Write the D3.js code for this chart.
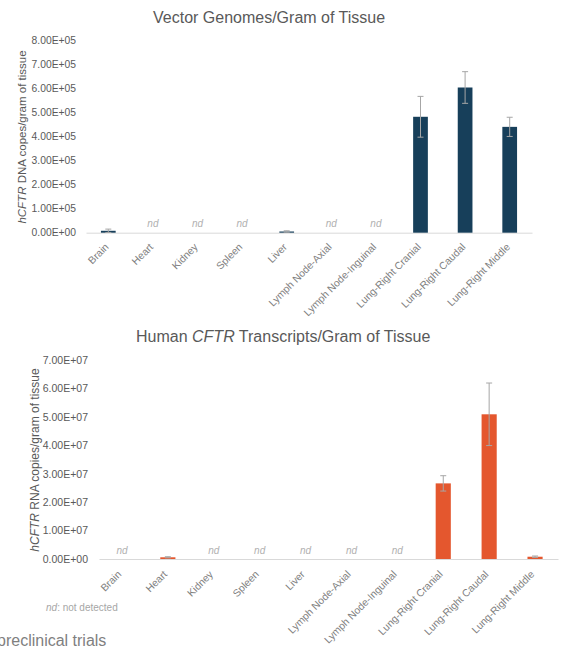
<!DOCTYPE html>
<html>
<head>
<meta charset="utf-8">
<script src="https://cdn.jsdelivr.net/npm/d3@7"></script>
<style>
  html, body { margin: 0; padding: 0; background: #fff; }
  svg { display: block; font-family: "Liberation Sans", Arial, sans-serif; }
</style>
</head>
<body>
<svg id="fig" width="563" height="649"></svg>
<script>
// Tissues sampled
const tissues = ["Brain", "Heart", "Kidney", "Spleen", "Liver", "Lymph Node-Axial",
  "Lymph Node-Inguinal", "Lung-Right Cranial", "Lung-Right Caudal", "Lung-Right Middle"];

// Vector genomes (hCFTR DNA copies per gram); null = not detected
const dnaValues = [8000, null, null, null, 5000, null, null, 483000, 605000, 441000];
const dnaErrors = [7000, null, null, null, 3000, null, null, 85000, 66000, 40000];
const dnaTicks = [0, 1e5, 2e5, 3e5, 4e5, 5e5, 6e5, 7e5, 8e5];

// Human CFTR transcripts (RNA copies per gram); null = not detected
const rnaValues = [null, 600000, null, null, null, null, null, 26600000, 50900000, 800000];
const rnaErrors = [null, 200000, null, null, null, null, null, 2700000, 11000000, 250000];
const rnaTicks = [0, 1e7, 2e7, 3e7, 4e7, 5e7, 6e7, 7e7];

const FONT = "'Liberation Sans', Arial, sans-serif";
const svg = d3.select("#fig");
svg.append("rect").attr("width", 563).attr("height", 649).attr("fill", "#fff");

// Spreadsheet-style scientific notation, e.g. 5.00E+05
function sci(v) {
  if (v === 0) return "0.00E+00";
  const e = Math.floor(Math.log10(v) + 1e-9);
  const m = v / Math.pow(10, e);
  return m.toFixed(2) + "E+" + String(e).padStart(2, "0");
}

function drawChart(cfg) {
  const g = svg.append("g");

  const x = d3.scaleBand()
    .domain(tissues)
    .range([cfg.x0, cfg.x1])
    .paddingInner(0.67)
    .paddingOuter(0.335);

  const y = d3.scaleLinear()
    .domain([0, d3.max(cfg.ticks)])
    .range([cfg.yBase, cfg.yTop]);

  // value axis: labels only
  const ya = g.append("g")
    .attr("transform", `translate(${cfg.tickRight},0)`)
    .call(d3.axisLeft(y).tickValues(cfg.ticks).tickFormat(sci).tickSize(0).tickPadding(0));
  ya.attr("font-family", FONT);
  ya.select(".domain").remove();
  ya.selectAll("text")
    .attr("fill", "#595959")
    .attr("font-size", cfg.tickFont);

  // category axis: baseline plus slanted labels
  const xa = g.append("g")
    .attr("transform", `translate(0,${cfg.yBase})`)
    .call(d3.axisBottom(x).tickSize(0).tickSizeOuter(0));
  xa.attr("font-family", FONT);
  xa.select(".domain").attr("stroke", "#d9d9d9").attr("stroke-width", 1);
  xa.selectAll("text")
    .attr("x", 0).attr("y", 0).attr("dy", 0)
    .attr("text-anchor", "end")
    .attr("transform", `translate(${cfg.labelDx},${cfg.labelDy}) rotate(-45)`)
    .attr("fill", "#7f7f7f")
    .attr("font-size", 10.3);

  const rows = tissues.map((t, i) => ({ t, v: cfg.values[i], e: cfg.errors[i] }));

  // bars
  g.append("g").selectAll("rect")
    .data(rows.filter(d => d.v != null))
    .join("rect")
    .attr("x", d => x(d.t))
    .attr("width", x.bandwidth())
    .attr("y", d => y(d.v))
    .attr("height", d => y(0) - y(d.v))
    .attr("fill", cfg.color);

  // error bars
  const eb = g.append("g").attr("stroke", "#a6a6a6").attr("stroke-width", 1).attr("fill", "none");
  rows.filter(d => d.v != null && d.e != null).forEach(d => {
    const cx = x(d.t) + x.bandwidth() / 2;
    const lo = y(Math.max(0, d.v - d.e)), hi = y(d.v + d.e);
    eb.append("line").attr("x1", cx).attr("x2", cx).attr("y1", lo).attr("y2", hi);
    eb.append("line").attr("x1", cx - 3).attr("x2", cx + 3).attr("y1", hi).attr("y2", hi);
    eb.append("line").attr("x1", cx - 3).attr("x2", cx + 3).attr("y1", lo).attr("y2", lo);
  });

  // "nd" markers for tissues without signal
  g.append("g").selectAll("text")
    .data(rows.filter(d => d.v == null))
    .join("text")
    .attr("x", d => x(d.t) + x.bandwidth() / 2)
    .attr("y", cfg.yBase - 5.5)
    .attr("text-anchor", "middle")
    .attr("font-style", "italic")
    .attr("font-size", 10)
    .attr("fill", "#b0b0b0")
    .text("nd");

  // axis title
  const at = g.append("text")
    .attr("transform", `translate(${cfg.axisTitleX},${cfg.axisTitleY}) rotate(-90)`)
    .attr("text-anchor", "middle")
    .attr("font-size", cfg.axisTitleFont)
    .attr("fill", "#595959");
  at.append("tspan").attr("font-style", "italic").text("hCFTR");
  at.append("tspan").text(cfg.axisTitleRest);

  // chart title
  const tt = g.append("text")
    .attr("x", cfg.titleX).attr("y", cfg.titleY)
    .attr("font-size", 16)
    .attr("fill", "#595959");
  cfg.title.forEach(p => {
    const s = tt.append("tspan").text(p.text);
    if (p.italic) s.attr("font-style", "italic");
  });
}

drawChart({
  values: dnaValues, errors: dnaErrors, ticks: dnaTicks,
  x0: 86, x1: 532, yBase: 232.7, yTop: 40.7,
  color: "#173f5a", tickRight: 76, tickFont: 10.3,
  labelDx: 1, labelDy: 15,
  axisTitleX: 26, axisTitleY: 137, axisTitleFont: 11.5,
  axisTitleRest: " DNA copes/gram of tissue",
  titleX: 153, titleY: 23,
  title: [{ text: "Vector Genomes/Gram of Tissue" }]
});

drawChart({
  values: rnaValues, errors: rnaErrors, ticks: rnaTicks,
  x0: 99, x1: 558, yBase: 559, yTop: 360,
  color: "#e4572e", tickRight: 88, tickFont: 10.5,
  labelDx: 0, labelDy: 16,
  axisTitleX: 39, axisTitleY: 460, axisTitleFont: 12,
  axisTitleRest: " RNA copies/gram of tissue",
  titleX: 136, titleY: 342,
  title: [{ text: "Human " }, { text: "CFTR", italic: true }, { text: " Transcripts/Gram of Tissue" }]
});

// footnote
const fn = svg.append("text")
  .attr("x", 46).attr("y", 611)
  .attr("font-size", 10)
  .attr("fill", "#a6a6a6");
fn.append("tspan").attr("font-style", "italic").text("nd");
fn.append("tspan").text(": not detected");

svg.append("text")
  .attr("x", -3).attr("y", 646)
  .attr("font-size", 16)
  .attr("fill", "#7f7f7f")
  .text("preclinical trials");
</script>
</body>
</html>
